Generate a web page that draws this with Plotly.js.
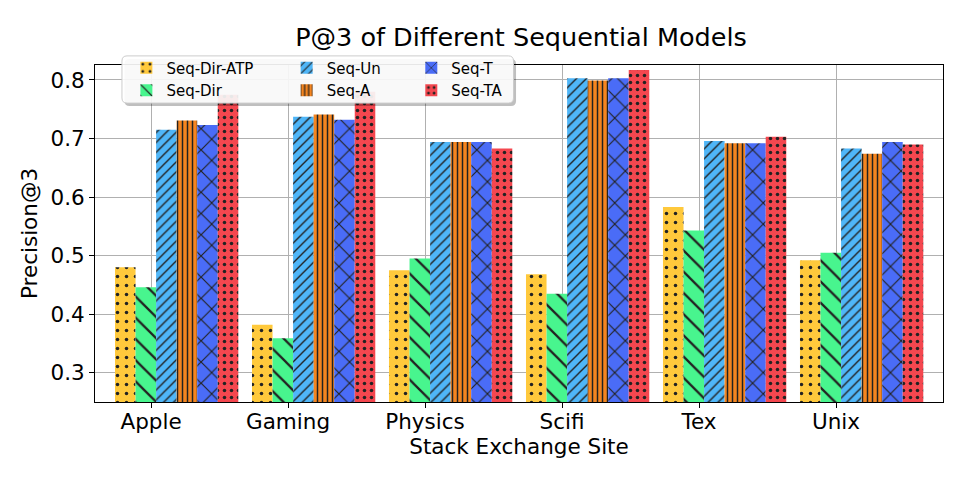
<!DOCTYPE html>
<html>
<head>
<meta charset="utf-8">
<script src="https://cdn.plot.ly/plotly-3.0.1.min.js"></script>
<style>
  body { margin: 0; background: #fff; }
  #chart { width: 969px; height: 485px; }
</style>
</head>
<body>
<div id="chart"></div>
<script>
// Stack Exchange sites
var sites = ['Apple', 'Gaming', 'Physics', 'Scifi', 'Tex', 'Unix'];

// Precision@3 per model
var seqDirATP = [0.480, 0.382, 0.475, 0.468, 0.583, 0.492];
var seqDir    = [0.446, 0.359, 0.495, 0.435, 0.543, 0.505];
var seqUn     = [0.715, 0.737, 0.694, 0.803, 0.696, 0.683];
var seqA      = [0.731, 0.741, 0.694, 0.799, 0.692, 0.674];
var seqT      = [0.723, 0.732, 0.694, 0.803, 0.692, 0.694];
var seqTA     = [0.775, 0.780, 0.683, 0.817, 0.703, 0.690];

var barWidth = 0.15;
var firstOffset = -0.263;

function makeBar(name, values, idx, color, shape, size, solidity, legendId) {
    return {
        type: 'bar',
        name: name,
        x: sites,
        y: values,
        width: barWidth,
        offset: firstOffset + idx * barWidth,
        legend: legendId,
        marker: {
            color: color,
            line: { width: 0 },
            pattern: {
                shape: shape,
                size: size,
                solidity: solidity,
                fgcolor: '#222222',
                bgcolor: color,
                fillmode: 'replace'
            }
        },
        hoverinfo: 'x+y+name'
    };
}

var data = [
    makeBar('Seq-Dir-ATP', seqDirATP, 0, '#ffc93c', '.', 9, 0.12, 'legend'),
    makeBar('Seq-Dir', seqDir, 1, '#48f58e', '\\', 15, 0.15, 'legend'),
    makeBar('Seq-Un', seqUn, 2, '#4fb6f8', '/', 7, 0.2, 'legend2'),
    makeBar('Seq-A', seqA, 3, '#f5851f', '|', 5, 0.3, 'legend2'),
    makeBar('Seq-T', seqT, 4, '#4a6cf7', 'x', 15, 0.15, 'legend3'),
    makeBar('Seq-TA', seqTA, 5, '#f4474f', '.', 7, 0.2, 'legend3')
];

var legendBase = {
    orientation: 'v',
    xanchor: 'left',
    yanchor: 'top',
    y: 1.04,
    bgcolor: 'rgba(0,0,0,0)',
    borderwidth: 0,
    font: { family: 'DejaVu Sans', size: 15, color: '#000' },
    tracegroupgap: 0
};

// rounded legend frame (paper coords)
function roundRect(x0, y0, x1, y1) {
    var rx = 0.006, ry = 0.015;
    return 'M' + (x0 + rx) + ',' + y0 +
        ' L' + (x1 - rx) + ',' + y0 + ' Q' + x1 + ',' + y0 + ' ' + x1 + ',' + (y0 + ry) +
        ' L' + x1 + ',' + (y1 - ry) + ' Q' + x1 + ',' + y1 + ' ' + (x1 - rx) + ',' + y1 +
        ' L' + (x0 + rx) + ',' + y1 + ' Q' + x0 + ',' + y1 + ' ' + x0 + ',' + (y1 - ry) +
        ' L' + x0 + ',' + (y0 + ry) + ' Q' + x0 + ',' + y0 + ' ' + (x0 + rx) + ',' + y0 + ' Z';
}

var axisFont = { family: 'DejaVu Sans', size: 21.5, color: '#000' };

var layout = {
    width: 969,
    height: 485,
    margin: { l: 95, r: 26, t: 65, b: 83 },
    paper_bgcolor: '#ffffff',
    plot_bgcolor: '#ffffff',
    font: { family: 'DejaVu Sans', color: '#000' },
    barmode: 'overlay',
    showlegend: true,
    title: {
        text: 'P@3 of Different Sequential Models',
        font: { family: 'DejaVu Sans', size: 25.5, color: '#000' },
        x: 521 / 969,
        xanchor: 'center',
        xref: 'container',
        y: 1 - 37 / 485,
        yanchor: 'middle',
        yref: 'container'
    },
    xaxis: {
        type: 'category',
        range: [-0.409, 5.781],
        showgrid: true,
        gridcolor: '#b0b0b0',
        gridwidth: 1,
        showline: true,
        linecolor: '#000',
        linewidth: 1,
        mirror: true,
        ticks: 'outside',
        ticklen: 5,
        tickcolor: '#000',
        ticklabelstandoff: -5,
        tickfont: axisFont,
        title: {
            text: 'Stack Exchange Site',
            font: axisFont,
            standoff: 2
        },
        automargin: false,
        fixedrange: true
    },
    yaxis: {
        range: [0.25, 0.8256],
        dtick: 0.1,
        tick0: 0.3,
        tickformat: '.1f',
        showgrid: true,
        gridcolor: '#b0b0b0',
        gridwidth: 1,
        zeroline: false,
        showline: true,
        linecolor: '#000',
        linewidth: 1,
        mirror: true,
        ticks: 'outside',
        ticklen: 5,
        tickcolor: '#000',
        tickfont: axisFont,
        title: {
            text: 'Precision@3',
            font: axisFont,
            standoff: 6
        },
        automargin: false,
        fixedrange: true
    },
    legend: Object.assign({}, legendBase, { x: 0.037 }),
    legend2: Object.assign({}, legendBase, { x: 0.226 }),
    legend3: Object.assign({}, legendBase, { x: 0.373 }),
    shapes: [
        {
            type: 'path', xref: 'paper', yref: 'paper', layer: 'above',
            path: roundRect(0.0348, 0.878, 0.4965, 1.018),
            fillcolor: 'rgba(0,0,0,0.25)', line: { width: 0 }
        },
        {
            type: 'path', xref: 'paper', yref: 'paper', layer: 'above',
            path: roundRect(0.0318, 0.887, 0.4935, 1.027),
            fillcolor: 'rgba(255,255,255,0.9)', line: { color: '#cccccc', width: 1 }
        }
    ]
};

Plotly.newPlot('chart', data, layout, { displayModeBar: false, staticPlot: true });
</script>
</body>
</html>
